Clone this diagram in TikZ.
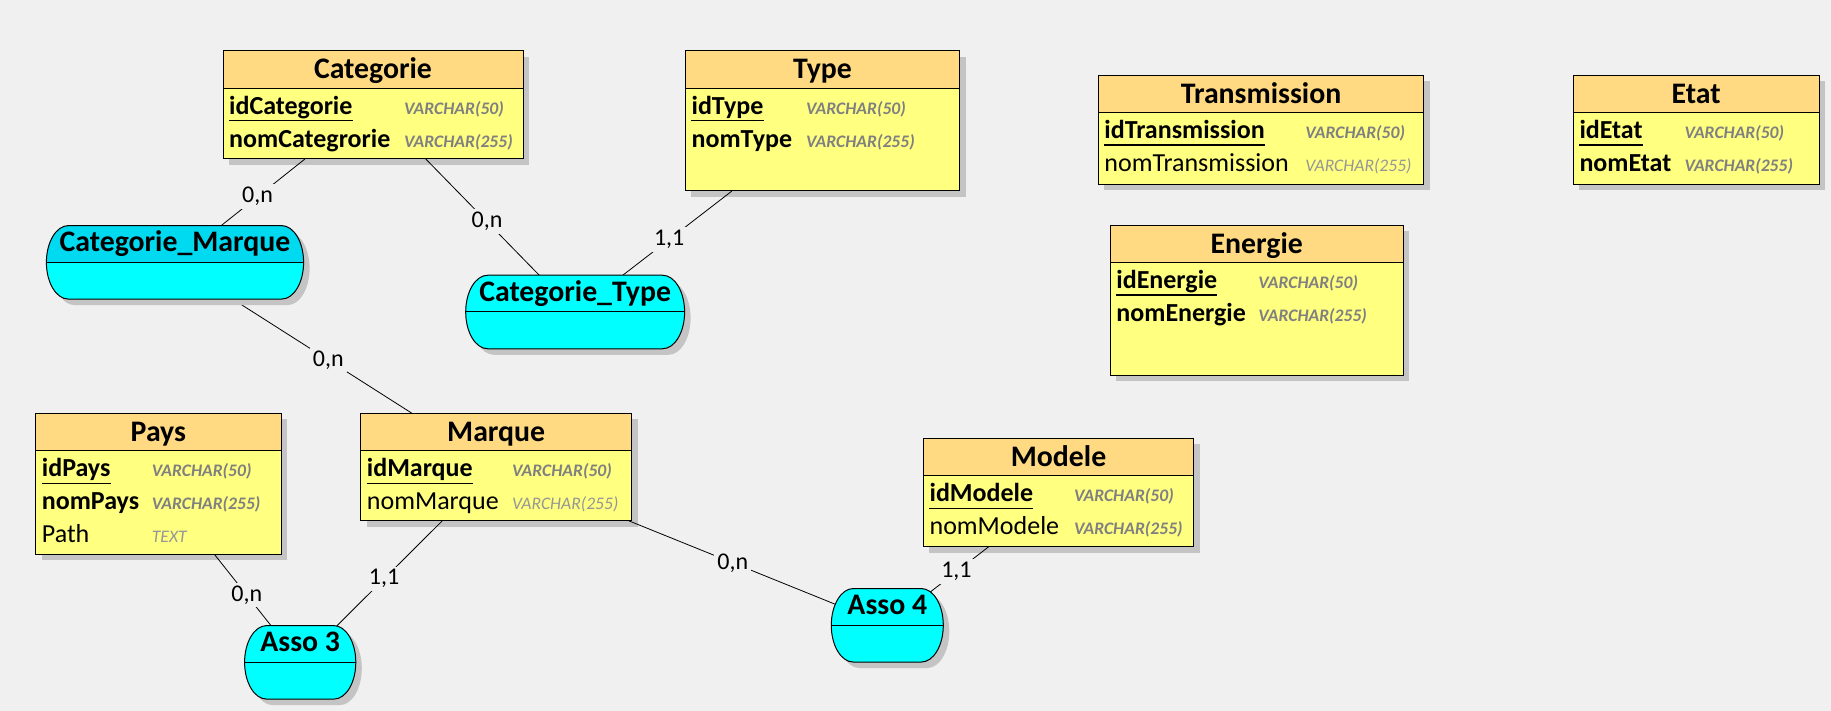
\documentclass[tikz,border=0pt]{standalone}
\usepackage{fontspec}
\setmainfont{Carlito}
\usetikzlibrary{
    positioning,
    shadows
}

\definecolor{fond}{RGB}{240,240,240}
\definecolor{entete}{RGB}{255,218,130}
\definecolor{corps}{RGB}{255,255,128}
\definecolor{ombre}{RGB}{196,196,196}
\definecolor{assoc}{RGB}{0,255,255}
\definecolor{assosel}{RGB}{0,218,240}
\definecolor{typegris}{RGB}{128,128,128}
\definecolor{typeclair}{RGB}{150,150,150}

\pgfdeclarelayer{dessus}
\pgfsetlayers{main,dessus}

\newcommand{\titre}{\fontsize{29.8pt}{31pt}\selectfont\bfseries}
\newcommand{\champgras}{\fontsize{26pt}{28pt}\selectfont\bfseries}
\newcommand{\champnorm}{\fontsize{26pt}{28pt}\selectfont}
\newcommand{\typegras}{\fontsize{17.6pt}{20pt}\selectfont\bfseries\itshape}
\newcommand{\typenorm}{\fontsize{17.6pt}{20pt}\selectfont\itshape}
\newcommand{\cardfont}{\fontsize{24pt}{26pt}\selectfont}

% one line of an entity: entity, row, name style, name, type offset, type style, type
\newcommand{\champ}[7]{%
    \node[#3] (#1-#2) at ([shift={(6pt,{-26pt-33pt*(#2-1)})}]#1-h.south west) {#4};
    \node[#6] (#1-#2t) at ([shift={(#5pt,{-26pt-33pt*(#2-1)})}]#1-h.south west) {#7};}

% association: name, centre, width, label, colour of the upper half
\newcommand{\association}[5]{%
    \node[assobox, minimum width=#3] (#1) at (#2) {};
    \begin{pgfonlayer}{dessus}
    \filldraw[assoforme, path picture={
            \fill[#5] (path picture bounding box.north west) rectangle (path picture bounding box.east);
            \draw[line width=1pt] (path picture bounding box.west) -- (path picture bounding box.east);}]
        ([xshift=22pt]#1.north west) -- ([xshift=-22pt]#1.north east)
        arc[start angle=90, end angle=-90, x radius=22pt, y radius=36.75pt]
        -- ([xshift=22pt]#1.south west)
        arc[start angle=270, end angle=90, x radius=22pt, y radius=36.75pt] -- cycle;
    \node[assonom] (#1-n) at ([yshift=10.7pt]#1.center) {#4};
    \end{pgfonlayer}}

\tikzset{
    ent/.style={draw, fill=corps, line width=1pt, inner sep=0pt, outer sep=0pt, anchor=north west,
        drop shadow={shadow xshift=6pt, shadow yshift=-6pt, fill=ombre, opacity=1}},
    enthead/.style={draw, fill=entete, line width=1pt, inner sep=0pt, outer sep=0pt, anchor=north west,
        minimum height=37.6pt, font=\titre, text height=20pt, text depth=2pt},
    nomg/.style={anchor=base west, inner sep=0pt, font=\champgras},
    nomn/.style={anchor=base west, inner sep=0pt, font=\champnorm},
    cle/.style={nomg, text depth=6pt,
        append after command={(\tikzlastnode.south west) edge[line width=1.2pt] (\tikzlastnode.south east)}},
    typg/.style={anchor=base west, inner sep=0pt, font=\typegras, text=typegris},
    typn/.style={anchor=base west, inner sep=0pt, font=\typenorm, text=typeclair},
    assobox/.style={minimum height=73.5pt, inner sep=0pt, outer sep=0pt},
    assoforme/.style={fill=assoc, draw, line width=1pt,
        drop shadow={shadow xshift=6pt, shadow yshift=-6pt, fill=ombre, opacity=1}},
    assonom/.style={anchor=base, inner sep=0pt, font=\titre},
    lien/.style={line width=0.8pt},
    card/.style={fill=fond, inner sep=3pt, font=\cardfont}
}

\begin{document}
\begin{tikzpicture}[x=1pt, y=-1pt]
    \fill[fond] (0,0) rectangle (1831,711);
    \useasboundingbox (0,0) rectangle (1831,711);

    % entities
    \node[ent, minimum width=300pt, minimum height=108.3pt] (categorie) at (223,50.7) {};
    \node[enthead, minimum width=300pt] (categorie-h) at (categorie.north west) {Categorie};
    \champ{categorie}{1}{cle}{idCategorie}{181}{typg}{VARCHAR(50)}
    \champ{categorie}{2}{nomg}{nomCategrorie}{181}{typg}{VARCHAR(255)}

    \node[ent, minimum width=274.2pt, minimum height=140.3pt] (type) at (685.4,50.7) {};
    \node[enthead, minimum width=274.2pt] (type-h) at (type.north west) {Type};
    \champ{type}{1}{cle}{idType}{120.6}{typg}{VARCHAR(50)}
    \champ{type}{2}{nomg}{nomType}{120.6}{typg}{VARCHAR(255)}

    \node[ent, minimum width=325.7pt, minimum height=109pt] (transmission) at (1098.2,75.3) {};
    \node[enthead, minimum width=325.7pt] (transmission-h) at (transmission.north west) {Transmission};
    \champ{transmission}{1}{cle}{idTransmission}{207}{typg}{VARCHAR(50)}
    \champ{transmission}{2}{nomn}{nomTransmission}{207}{typn}{VARCHAR(255)}

    \node[ent, minimum width=245.7pt, minimum height=109pt] (etat) at (1573.3,75.3) {};
    \node[enthead, minimum width=245.7pt] (etat-h) at (etat.north west) {Etat};
    \champ{etat}{1}{cle}{idEtat}{111}{typg}{VARCHAR(50)}
    \champ{etat}{2}{nomg}{nomEtat}{111}{typg}{VARCHAR(255)}

    \node[ent, minimum width=293.1pt, minimum height=149.7pt] (energie) at (1110.2,225.3) {};
    \node[enthead, minimum width=293.1pt] (energie-h) at (energie.north west) {Energie};
    \champ{energie}{1}{cle}{idEnergie}{148}{typg}{VARCHAR(50)}
    \champ{energie}{2}{nomg}{nomEnergie}{148}{typg}{VARCHAR(255)}

    \node[ent, minimum width=245.3pt, minimum height=141pt] (pays) at (35.7,413.3) {};
    \node[enthead, minimum width=245.3pt] (pays-h) at (pays.north west) {Pays};
    \champ{pays}{1}{cle}{idPays}{116}{typg}{VARCHAR(50)}
    \champ{pays}{2}{nomg}{nomPays}{116}{typg}{VARCHAR(255)}
    \champ{pays}{3}{nomn}{Path}{116}{typn}{TEXT}

    \node[ent, minimum width=271pt, minimum height=107.4pt] (marque) at (360.7,413.3) {};
    \node[enthead, minimum width=271pt] (marque-h) at (marque.north west) {Marque};
    \champ{marque}{1}{cle}{idMarque}{151.3}{typg}{VARCHAR(50)}
    \champ{marque}{2}{nomn}{nomMarque}{151.3}{typn}{VARCHAR(255)}

    \node[ent, minimum width=270.3pt, minimum height=108.4pt] (modele) at (923.4,438.3) {};
    \node[enthead, minimum width=270.3pt] (modele-h) at (modele.north west) {Modele};
    \champ{modele}{1}{cle}{idModele}{150.5}{typg}{VARCHAR(50)}
    \champ{modele}{2}{nomn}{nomModele}{150.5}{typg}{VARCHAR(255)}

    % associations (drawn on top of the links)
    \association{catmarque}{175,262.35}{257.2pt}{Categorie\_Marque}{assosel}
    \association{cattype}{575.15,312}{218.9pt}{Categorie\_Type}{assoc}
    \association{asso3}{300.2,662.35}{111.2pt}{Asso 3}{assoc}
    \association{asso4}{887.3,625.3}{112pt}{Asso 4}{assoc}

    % links with cardinalities
    \foreach \a/\b/\p/\c [count=\i] in {categorie/catmarque/.365/{0,n}, categorie/cattype/.41/{0,n},
        type/cattype/.4/{1,1}, pays/asso3/.377/{0,n}, marque/asso3/.41/{1,1},
        marque/asso4/.403/{0,n}, modele/asso4/.318/{1,1}} {
        \draw[lien] (\a) -- node[card, pos=\p] (card\i) {\c} (\b.center);
    }
    \draw[lien] (catmarque.center) -- node[card, pos=.647] (card8) {0,n} (marque);
\end{tikzpicture}
\end{document}
